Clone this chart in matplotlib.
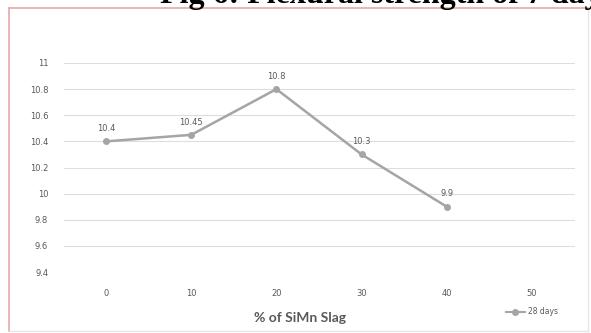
import numpy as np
import matplotlib.pyplot as plt
from matplotlib.lines import Line2D

categories = ['0', '10', '20', '30', '40', '50']
strength = [10.4, 10.45, 10.8, 10.3, 9.9]
point_labels = ['10.4', '10.45', '10.8', '10.3', '9.9']
y_ticks = [9.4, 9.6, 9.8, 10, 10.2, 10.4, 10.6, 10.8, 11]
y_tick_labels = ['9.4', '9.6', '9.8', '10', '10.2', '10.4', '10.6', '10.8', '11']
series_name = '28 days'

W, H = 591, 333
fig = plt.figure(figsize=(W / 100, H / 100), dpi=100)
fig.patch.set_facecolor('white')

# chart frame
fig.add_artist(Line2D([9 / W, 9 / W], [1 - 8 / H, 1 - 331 / H], color='#e4a9a9', lw=1.2))
fig.add_artist(Line2D([9 / W, 588 / W], [1 - 8 / H, 1 - 8 / H], color='#e4a9a9', lw=1.2))
fig.add_artist(Line2D([588 / W, 588 / W], [1 - 8 / H, 1 - 331 / H], color='#e6e6e6', lw=1))
fig.add_artist(Line2D([9 / W, 588 / W], [1 - 331 / H, 1 - 331 / H], color='#e6e6e6', lw=1))

# figure caption, cut off at the top as in the source image
fig.text(160 / W, 1 - 3.5 / H, 'Fig 6: Flexural strength of 7 days', family='Liberation Serif',
         fontweight='bold', fontsize=23, va='baseline', ha='left', color='black')

ax = fig.add_axes([63.5 / W, 61 / H, 511 / W, 209 / H])
x = np.arange(len(categories))
ax.plot(x[:len(strength)], strength, color='#a5a5a5', lw=1.8, marker='o', ms=4,
        markerfacecolor='#a5a5a5', markeredgecolor='#a5a5a5', label=series_name)
for xi, v, lab in zip(x, strength, point_labels):
    ax.annotate(lab, (xi, v), xytext=(0, 6), textcoords='offset points', ha='center',
                va='bottom', fontsize=6, color='#595959')

ax.set_xlim(-0.5, len(categories) - 0.5)
ax.set_ylim(9.4, 11)
ax.set_xticks(x)
ax.set_xticklabels(categories)
ax.set_yticks(y_ticks)
ax.set_yticklabels(y_tick_labels)
ax.tick_params(length=0, labelsize=6, labelcolor='#595959')
ax.tick_params(axis='y', pad=11)
ax.tick_params(axis='x', pad=12)
ax.grid(axis='y', color='#dedede', lw=0.8)
ax.set_axisbelow(True)
for s in ax.spines.values():
    s.set_visible(False)

fig.text(300 / W, 1 - 318 / H, '% of SiMn Slag', family='Lato', fontweight='bold',
         fontsize=10, color='#595959', ha='center', va='center')

h = Line2D([], [], color='#a5a5a5', lw=1.5, marker='o', ms=4)
fig.legend([h], [series_name], loc='center', bbox_to_anchor=(532 / W, 1 - 312 / H),
           frameon=False, fontsize=5.5, labelcolor='#595959', handlelength=2.5,
           handletextpad=0.4)

fig.savefig('out.png', dpi=100)
